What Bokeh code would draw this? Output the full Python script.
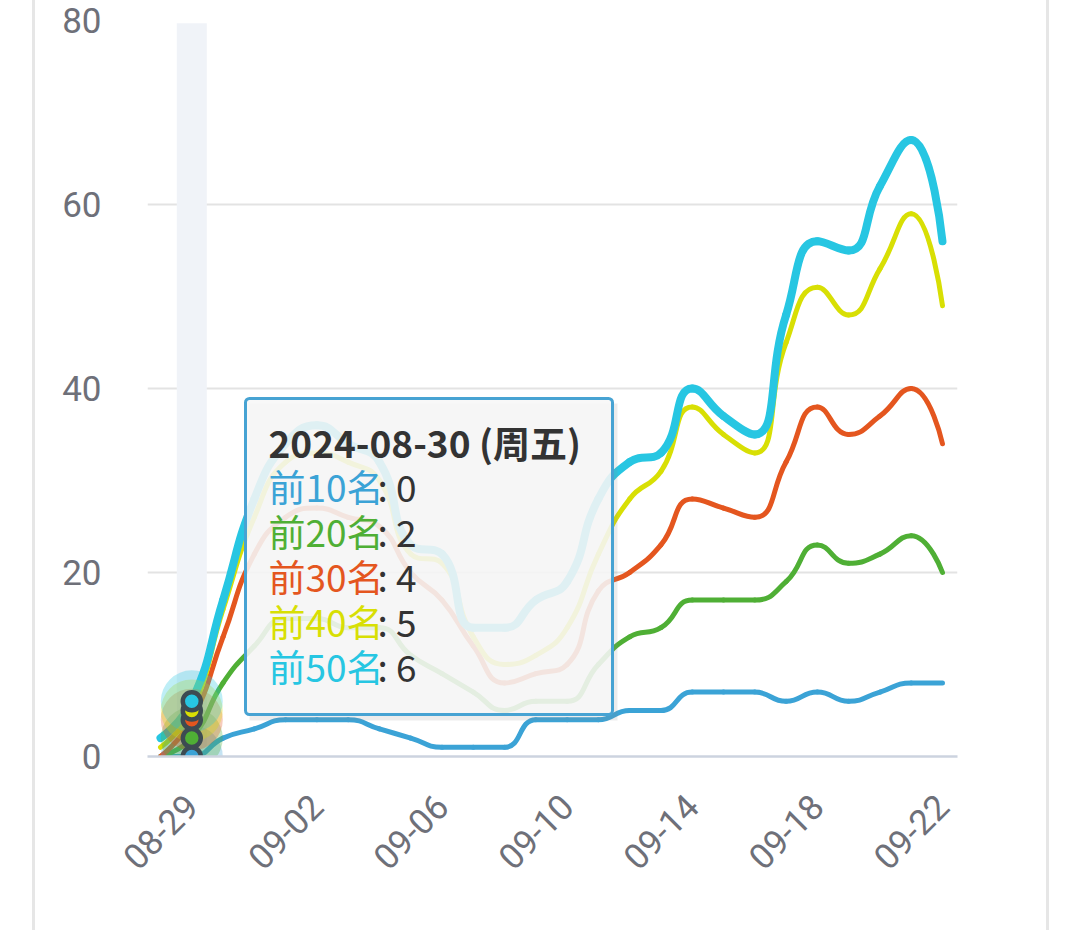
import math
from bokeh.plotting import figure
from bokeh.layouts import column
from bokeh.models import ColumnDataSource, Range1d, FixedTicker, BoxAnnotation, Label
from bokeh.embed import file_html
from bokeh.resources import INLINE

# ---------------- data ----------------
dates = ["08-28", "08-29", "08-30", "08-31", "09-01", "09-02", "09-03", "09-04",
         "09-05", "09-06", "09-07", "09-08", "09-09", "09-10", "09-11", "09-12",
         "09-13", "09-14", "09-15", "09-16", "09-17", "09-18", "09-19", "09-20",
         "09-21", "09-22"]
series_names = ["前10名", "前20名", "前30名", "前40名", "前50名"]
top10 = [0, 0, 2, 3, 4, 4, 4, 3, 2, 1, 1, 1, 4, 4, 4, 5, 5, 7, 7, 7, 6, 7, 6, 7, 8, 8]
top20 = [0, 2, 8, 12, 15, 15, 14, 14, 11, 9, 7, 5, 6, 6, 10, 13, 14, 17, 17, 17, 19, 23, 21, 22, 24, 20]
top30 = [0, 4, 13, 22, 26, 27, 26, 25, 20, 17, 12, 8, 9, 10, 18, 20, 23, 28, 27, 26, 32, 38, 35, 37, 40, 34]
top40 = [1, 5, 16, 26, 32, 33, 32, 30, 22, 21, 13, 10, 11, 14, 22, 28, 31, 38, 35, 33, 45, 51, 48, 53, 59, 49]
top50 = [2, 6, 17, 28, 34, 36, 34, 32, 23, 22, 14, 14, 17, 19, 28, 32, 33, 40, 37, 35, 48, 56, 55, 62, 67, 56]
all_series = [top10, top20, top30, top40, top50]
y_ticks = [0, 20, 40, 60, 80]
x_tick_idx = [1, 5, 9, 13, 17, 21, 25]
hover_idx = 1
tooltip_title = "2024-08-30 (周五)"

# ---------------- style ----------------
colors = ["#3ba3d6", "#4faf35", "#e4561f", "#d8df04", "#27c6e2"]
widths = [5, 5, 5, 5, 8]
axis_color = "#6e7079"

FIG_LEFT = 35            # page x where the figure starts (inside the card)
W, H = 1011, 930
FRAME_L, FRAME_R, FRAME_T, FRAME_B = 147, 957, 20, 756   # page pixels
ML = FRAME_L - FIG_LEFT
MR = FIG_LEFT + W - FRAME_R
MT = FRAME_T
MB = H - FRAME_B
x_start, x_end = -0.416, 25.48
y_start, y_end = 0, 80
sx = (FRAME_R - FRAME_L) / (x_end - x_start)
sy = (FRAME_B - FRAME_T) / (y_end - y_start)


def px_x(page_x):
    return x_start + (page_x - FRAME_L) / sx


def px_y(page_y):
    return y_end - (page_y - FRAME_T) / sy


def smooth_segments(xs, ys, smooth=0.5):
    """echarts-like smooth bezier control points (computed in pixel space)."""
    P = [(x * sx, y * sy) for x, y in zip(xs, ys)]
    n = len(P)
    out = {k: [] for k in ["x0", "y0", "x1", "y1", "cx0", "cy0", "cx1", "cy1"]}
    cpx0, cpy0 = P[0]
    for k in range(1, n):
        x, y = P[k]
        prevX, prevY = P[k - 1]
        if k == n - 1:
            cpx1, cpy1 = x, y
            ncx, ncy = x, y
        else:
            nextX, nextY = P[k + 1]
            vx = nextX - prevX
            vy = nextY - prevY
            lenPrev = math.hypot(x - prevX, y - prevY)
            lenNext = math.hypot(nextX - x, nextY - y)
            ratio = lenNext / (lenNext + lenPrev)
            ncx = x + vx * smooth * ratio
            ncy = y + vy * smooth * ratio
            ncx = min(ncx, max(nextX, x)); ncy = min(ncy, max(nextY, y))
            ncx = max(ncx, min(nextX, x)); ncy = max(ncy, min(nextY, y))
            vx = ncx - x
            vy = ncy - y
            cpx1 = x - vx * lenPrev / lenNext
            cpy1 = y - vy * lenPrev / lenNext
            cpx1 = min(cpx1, max(prevX, x)); cpy1 = min(cpy1, max(prevY, y))
            cpx1 = max(cpx1, min(prevX, x)); cpy1 = max(cpy1, min(prevY, y))
            vx = x - cpx1
            vy = y - cpy1
            ncx = x + vx * lenNext / lenPrev
            ncy = y + vy * lenNext / lenPrev
        out["x0"].append(prevX / sx); out["y0"].append(prevY / sy)
        out["x1"].append(x / sx); out["y1"].append(y / sy)
        out["cx0"].append(cpx0 / sx); out["cy0"].append(cpy0 / sy)
        out["cx1"].append(cpx1 / sx); out["cy1"].append(cpy1 / sy)
        cpx0, cpy0 = ncx, ncy
    return out


p = figure(width=W, height=H, output_backend="svg", toolbar_location=None,
           x_range=Range1d(x_start, x_end), y_range=Range1d(y_start, y_end),
           min_border_left=ML, min_border_right=MR, min_border_top=MT,
           min_border_bottom=MB)
p.outline_line_color = None
p.background_fill_color = "white"
p.border_fill_color = "white"

# grid
p.xgrid.visible = False
p.ygrid.grid_line_color = "#e3e3e3"
p.ygrid.grid_line_width = 2
p.yaxis.ticker = FixedTicker(ticks=y_ticks)
p.ygrid.ticker = FixedTicker(ticks=y_ticks)

# axes
p.yaxis.axis_line_color = None
p.yaxis.major_tick_line_color = None
p.yaxis.minor_tick_line_color = None
p.yaxis.major_label_standoff = 40
p.yaxis.major_label_text_font = "Roboto"
p.yaxis.major_label_text_font_size = "35px"
p.yaxis.major_label_text_color = axis_color

p.xaxis.ticker = FixedTicker(ticks=x_tick_idx)
p.xaxis.major_label_overrides = {i: dates[i] for i in x_tick_idx}
p.xaxis.major_label_orientation = math.pi / 4
p.xaxis.axis_line_color = "#ccd3df"
p.xaxis.axis_line_width = 2.5
p.xaxis.major_tick_line_color = None
p.xaxis.minor_tick_line_color = None
p.xaxis.major_label_standoff = 38
p.xaxis.major_label_text_font = "Roboto"
p.xaxis.major_label_text_font_size = "35px"
p.xaxis.major_label_text_color = axis_color

# axis pointer shadow band
p.vbar(x=[hover_idx], width=0.96, top=[y_end - 0.3], bottom=[y_start],
       fill_color="#f0f3f8", line_color=None)

# lines
xs = list(range(len(dates)))
for vals, col, lw in zip(all_series, colors, widths):
    seg = smooth_segments(xs, vals)
    p.bezier(x0="x0", y0="y0", x1="x1", y1="y1", cx0="cx0", cy0="cy0",
             cx1="cx1", cy1="cy1", source=ColumnDataSource(seg),
             line_color=col, line_width=lw, line_cap="round")

# emphasized points
hv = [s[hover_idx] for s in all_series]
p.scatter(x=[hover_idx] * len(hv), y=hv, size=62, fill_color=colors,
          fill_alpha=0.3, line_color=None)
p.scatter(x=[hover_idx] * len(hv), y=hv, size=18, fill_color=colors,
          line_color="#3d4b52", line_width=4.5)

# tooltip
p.add_layout(BoxAnnotation(left=px_x(249), right=px_x(617), top=px_y(403),
                           bottom=px_y(720), fill_color="#888888", fill_alpha=0.16,
                           line_color=None))
p.add_layout(BoxAnnotation(left=px_x(245), right=px_x(612), top=px_y(398),
                           bottom=px_y(714), fill_color="#f7f7f7", fill_alpha=0.88,
                           line_color="#47a3d3", line_alpha=1.0, line_width=3,
                           line_dash="solid", border_radius=4))
p.add_layout(Label(x=px_x(268), y=px_y(441), text=tooltip_title,
                   text_font="Noto Sans CJK SC", text_font_style="bold",
                   text_font_size="37px", text_color="#333333",
                   text_baseline="middle"))
row_y = [485, 530, 575, 620, 665]
for name, col, v, ry in zip(series_names, colors, hv, row_y):
    p.add_layout(Label(x=px_x(268), y=px_y(ry), text=name,
                       text_font="Noto Sans CJK SC", text_font_size="37px",
                       text_color=col, text_baseline="middle"))
    p.add_layout(Label(x=px_x(377), y=px_y(ry), text=": %d" % v,
                       text_font="Noto Sans CJK SC", text_font_size="37px",
                       text_color="#333333", text_baseline="middle"))

layout = column(p, styles={"margin-left": "32px",
                           "border-left": "3px solid #e6e6e6",
                           "border-right": "3px solid #e6e6e6"})

open("out.html", "w").write(file_html(layout, INLINE))
